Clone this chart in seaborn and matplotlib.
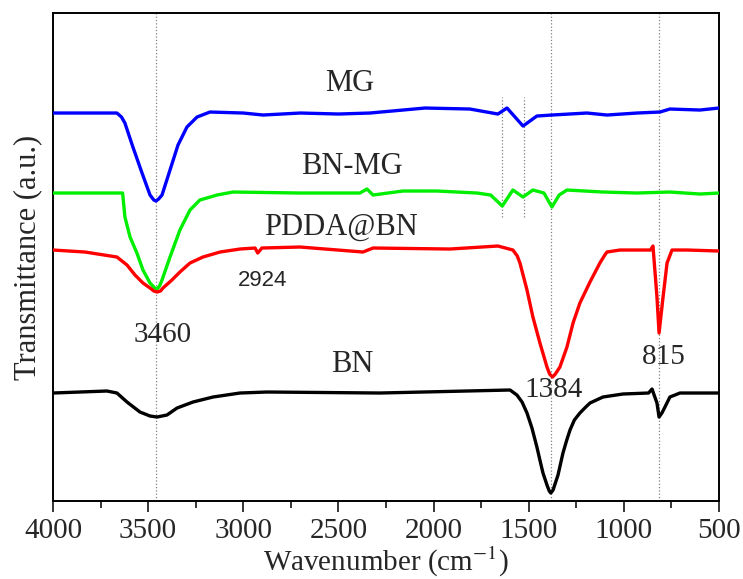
import numpy as np
import pandas as pd
import seaborn as sns
import matplotlib.pyplot as plt

# FTIR spectra: wavenumber (cm-1) and transmittance (a.u., offset)
mg_wn = [4000, 3664, 3640, 3622, 3580, 3532, 3490, 3470, 3459, 3445, 3427, 3385, 3343,
         3296, 3243, 3175, 3000, 2896, 2700, 2500, 2334, 2045, 1809, 1662, 1614, 1530,
         1457, 1378, 1194, 1089, 931, 810, 758, 600, 500]
mg_t = [388, 388, 384, 378, 354, 328, 306, 301, 300, 302, 306, 331, 356,
        374, 384, 389, 388, 386, 388, 387, 388, 393, 392, 387, 393, 375,
        385, 386, 388, 386, 388, 389, 392, 391, 393]

bnmg_wn = [4000, 3634, 3622, 3595, 3559, 3527, 3490, 3465, 3453, 3440, 3427, 3385, 3333,
           3280, 3228, 3138, 3054, 2702, 2387, 2350, 2318, 2161, 1982, 1772, 1700, 1639,
           1583, 1530, 1478, 1420, 1378, 1340, 1299, 1110, 931, 758, 600, 500]
bnmg_t = [308, 308, 284, 264, 248, 231, 218, 213, 212, 215, 221, 244, 271,
          291, 301, 306, 309, 308, 308, 312, 306, 310, 310, 308, 306, 295,
          311, 304, 311, 308, 294, 306, 311, 309, 308, 309, 307, 308]

pdda_wn = [4000, 3832, 3664, 3611, 3569, 3527, 3490, 3470, 3453, 3435, 3422, 3375, 3333,
           3280, 3212, 3122, 3017, 2938, 2924, 2902, 2702, 2371, 2318, 1914, 1662, 1583,
           1560, 1546, 1509, 1478, 1441, 1404, 1390, 1375, 1360, 1336, 1299, 1267, 1231,
           1178, 1126, 1100, 1089, 1020, 915, 860, 847, 826, 815, 794, 773, 747, 668, 500]
pdda_t = [251, 249, 244, 236, 226, 218, 213, 210, 209, 210, 213, 221, 229,
          238, 244, 249, 252, 253, 248, 253, 254, 249, 253, 252, 255, 251,
          245, 238, 211, 184, 158, 134, 127, 124, 127, 134, 154, 178, 198,
          219, 238, 246, 249, 251, 251, 251, 255, 204, 168, 204, 238, 251, 251, 250]

bn_wn = [4000, 3716, 3664, 3611, 3543, 3490, 3453, 3401, 3348, 3264, 3159, 3017, 2875,
         2282, 1598, 1562, 1535, 1509, 1483, 1457, 1440, 1425, 1404, 1392, 1384, 1372,
         1360, 1346, 1320, 1300, 1283, 1260, 1231, 1200, 1178, 1110, 1005, 870, 852,
         826, 815, 800, 784, 758, 705, 500]
bn_t = [108, 110, 108, 99, 89, 85, 84, 86, 93, 99, 104, 108, 109,
        108, 111, 106, 99, 88, 73, 54, 40, 28, 16, 10, 8, 11,
        18, 26, 48, 61, 71, 81, 88, 94, 98, 104, 107, 108, 112,
        98, 84, 88, 94, 104, 108, 108]

peak_lines = [3460, 1384, 815]
mg_lines = [1639, 1527]

sns.set_style("ticks")
plt.rcParams["font.family"] = ["Liberation Serif", "DejaVu Serif"]
plt.rcParams["mathtext.fontset"] = "stix"

fig = plt.figure(figsize=(7.43, 5.79), dpi=100)
ax = fig.add_axes([0.0713, 0.1347, 0.8964, 0.8428])

for wn in peak_lines:
    ax.axvline(wn, color="gray", ls=":", lw=0.9, zorder=1)
for wn in mg_lines:
    ax.plot([wn, wn], [284, 404], color="gray", ls=":", lw=0.9, zorder=1)

series = [(mg_wn, mg_t, "#0000ff"), (bnmg_wn, bnmg_t, "#00ee00"),
          (pdda_wn, pdda_t, "#ff0000"), (bn_wn, bn_t, "black")]
for wn, t, c in series:
    sns.lineplot(x=wn, y=t, color=c, lw=2.4, estimator=None, ax=ax, zorder=3)

ax.set_xlim(4000, 500)
ax.set_ylim(0, 488)
ax.set_xticks(np.arange(4000, 499, -500))
ax.set_xticks(np.arange(3750, 500, -500), minor=True)
ax.set_yticks([])
ax.tick_params(axis="x", which="major", direction="out", length=8, width=1.3,
               labelsize=21, pad=4)
ax.tick_params(axis="x", which="minor", direction="out", length=5, width=1.3)
for s in ax.spines.values():
    s.set_linewidth(1.4)
    s.set_color("black")

ax.set_xlabel("Wavenumber (cm$^{-1}$)", fontsize=21, labelpad=1)
ax.set_ylabel("Transmittance (a.u.)", fontsize=22, labelpad=8)

ax.text(2439, 418, "MG", fontsize=22, ha="center", va="center")
ax.text(2429, 335, "BN-MG", fontsize=22, ha="center", va="center")
ax.text(2487, 274, "PDDA@BN", fontsize=22, ha="center", va="center")
ax.text(2429, 137, "BN", fontsize=22, ha="center", va="center")
ax.text(3422, 166, "3460", fontsize=21, ha="center", va="center")
ax.text(1367, 111, "1384", fontsize=21, ha="center", va="center")
ax.text(792, 144, "815", fontsize=21, ha="center", va="center")
ax.text(2896, 221, "2924", fontsize=16, ha="center", va="center",
        family=["Liberation Sans", "DejaVu Sans"])

fig.savefig("out.png", dpi=100)
